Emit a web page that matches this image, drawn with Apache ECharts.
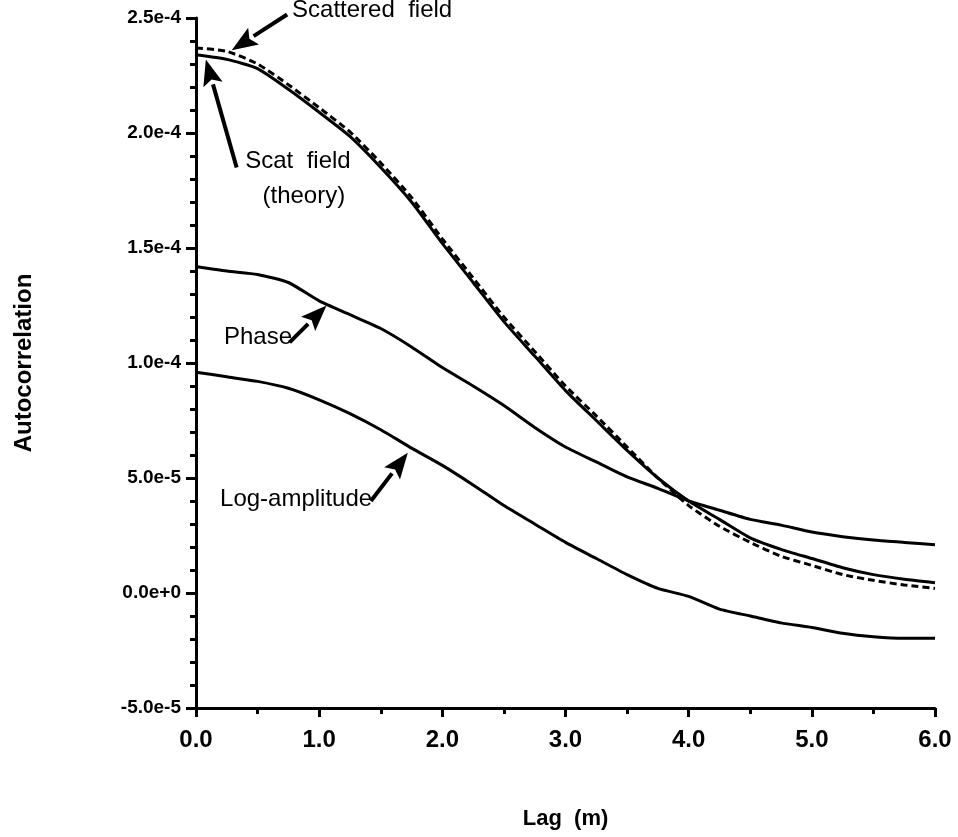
<!DOCTYPE html>
<html>
<head>
<meta charset="utf-8">
<script src="https://cdn.jsdelivr.net/npm/echarts@6/dist/echarts.min.js"></script>
<style>
  html,body{margin:0;padding:0;background:#fff;}
  #main{width:958px;height:837px;}
</style>
</head>
<body>
<div id="main"></div>
<script>
// lag (m)
const lags = [0, 0.25, 0.5, 0.75, 1.0, 1.25, 1.5, 1.75, 2.0, 2.25, 2.5, 2.75, 3.0,
  3.25, 3.5, 3.75, 4.0, 4.25, 4.5, 4.75, 5.0, 5.25, 5.5, 5.75, 6.0]

// autocorrelation values
const scatTheory = [23.4e-5, 23.2e-5, 22.8e-5, 21.9e-5, 20.9e-5, 19.85e-5, 18.5e-5, 17.0e-5, 15.2e-5,
  13.5e-5, 11.8e-5, 10.3e-5, 8.8e-5, 7.5e-5, 6.2e-5, 5.0e-5, 4.0e-5, 3.2e-5, 2.4e-5,
  1.9e-5, 1.5e-5, 1.1e-5, 0.8e-5, 0.6e-5, 0.45e-5]
const scattered = [23.7e-5, 23.55e-5, 23.0e-5, 22.1e-5, 21.1e-5, 20.05e-5, 18.7e-5, 17.2e-5, 15.4e-5,
  13.7e-5, 12.0e-5, 10.5e-5, 9.0e-5, 7.7e-5, 6.35e-5, 5.0e-5, 3.8e-5, 2.9e-5, 2.2e-5,
  1.6e-5, 1.2e-5, 0.8e-5, 0.55e-5, 0.35e-5, 0.2e-5]
const phase = [14.2e-5, 14.0e-5, 13.85e-5, 13.5e-5, 12.7e-5, 12.1e-5, 11.5e-5, 10.7e-5, 9.8e-5,
  9.0e-5, 8.15e-5, 7.2e-5, 6.35e-5, 5.7e-5, 5.05e-5, 4.55e-5, 4.0e-5, 3.6e-5, 3.2e-5,
  2.95e-5, 2.65e-5, 2.45e-5, 2.3e-5, 2.2e-5, 2.1e-5]
const logAmp = [9.6e-5, 9.4e-5, 9.2e-5, 8.9e-5, 8.4e-5, 7.8e-5, 7.1e-5, 6.3e-5, 5.55e-5,
  4.7e-5, 3.8e-5, 3.0e-5, 2.2e-5, 1.5e-5, 0.8e-5, 0.2e-5, -0.15e-5, -0.7e-5, -1.0e-5,
  -1.3e-5, -1.5e-5, -1.75e-5, -1.9e-5, -1.97e-5, -1.97e-5]

// annotations: text + arrow tail/tip in data coords
const notes = [
  {text: 'Scattered  field', at: [0.78, 25.35e-5], align: 'left', tail: [0.74, 25.15e-5], tip: [0.29, 23.6e-5]},
  {text: 'Scat  field', at: [0.40, 18.75e-5], align: 'left', tail: [0.33, 18.5e-5], tip: [0.08, 23.2e-5]},
  {text: '(theory)', at: [0.54, 17.25e-5], align: 'left'},
  {text: 'Phase', at: [0.78, 11.1e-5], align: 'right', tail: [0.76, 10.9e-5], tip: [1.06, 12.5e-5]},
  {text: 'Log-amplitude', at: [1.43, 4.05e-5], align: 'right', tail: [1.42, 4.0e-5], tip: [1.72, 6.1e-5]}
]

const pairs = arr => lags.map((x, i) => [x, arr[i]])
const font = 'Liberation Sans, Arial, Helvetica, sans-serif'
const lineStyle = {color: '#000', width: 3}

const chart = echarts.init(document.getElementById('main'))
chart.setOption({
  animation: false,
  backgroundColor: '#fff',
  grid: {left: 196, right: 23, top: 18, bottom: 129},
  xAxis: {
    type: 'value', min: 0, max: 6, interval: 1,
    name: 'Lag  (m)', nameLocation: 'middle', nameGap: 100,
    nameTextStyle: {fontFamily: font, fontSize: 22, fontWeight: 'bold', color: '#000'},
    axisLine: {onZero: false, lineStyle: {color: '#000', width: 3}},
    axisTick: {length: 9, lineStyle: {color: '#000', width: 3}},
    minorTick: {show: true, splitNumber: 2, length: 6, lineStyle: {color: '#000', width: 3}},
    axisLabel: {formatter: v => v.toFixed(1), fontFamily: font, fontSize: 24, fontWeight: 'bold', color: '#000', margin: 20},
    splitLine: {show: false}
  },
  yAxis: {
    type: 'value', min: -5e-5, max: 2.5e-4, interval: 5e-5,
    name: 'Autocorrelation', nameLocation: 'middle', nameGap: 160,
    nameTextStyle: {fontFamily: font, fontSize: 24, fontWeight: 'bold', color: '#000'},
    axisLine: {show: true, onZero: false, lineStyle: {color: '#000', width: 3}},
    axisTick: {show: true, length: 10, lineStyle: {color: '#000', width: 3}},
    minorTick: {show: true, splitNumber: 5, length: 6, lineStyle: {color: '#000', width: 3}},
    axisLabel: {formatter: v => v.toExponential(1), fontFamily: font, fontSize: 19, fontWeight: 'bold', color: '#000', margin: 15},
    splitLine: {show: false}
  },
  series: [
    {name: 'Scat field (theory)', type: 'line', data: pairs(scatTheory), symbol: 'none', smooth: 0.2, lineStyle: lineStyle},
    {name: 'Scattered field', type: 'line', data: pairs(scattered), symbol: 'none', smooth: 0.2,
      lineStyle: {color: '#000', width: 3, type: [7, 4]}},
    {name: 'Phase', type: 'line', data: pairs(phase), symbol: 'none', smooth: 0.2, lineStyle: lineStyle},
    {name: 'Log-amplitude', type: 'line', data: pairs(logAmp), symbol: 'none', smooth: 0.2, lineStyle: lineStyle}
  ]
})

// arrows and labels, positioned through the grid's own scales
const toPx = p => chart.convertToPixel({gridIndex: 0}, p)
const graphics = []
notes.forEach(n => {
  const p = toPx(n.at)
  graphics.push({
    type: 'text', x: p[0], y: p[1],
    style: {text: n.text, font: '24px ' + font, fill: '#000', align: n.align, verticalAlign: 'middle'}
  })
  if (!n.tail) return
  const a = toPx(n.tail), b = toPx(n.tip)
  const dx = b[0] - a[0], dy = b[1] - a[1], len = Math.hypot(dx, dy)
  const ux = dx / len, uy = dy / len
  const headLen = 26, headW = 10
  const base = [b[0] - ux * headLen, b[1] - uy * headLen]
  graphics.push({
    type: 'line', shape: {x1: a[0], y1: a[1], x2: base[0], y2: base[1]},
    style: {stroke: '#000', lineWidth: 4}
  })
  graphics.push({
    type: 'polygon',
    shape: {points: [b, [base[0] - uy * headW, base[1] + ux * headW], [base[0] + ux * 5, base[1] + uy * 5], [base[0] + uy * headW, base[1] - ux * headW]]},
    style: {fill: '#000'}
  })
})
chart.setOption({graphic: graphics})
</script>
</body>
</html>
